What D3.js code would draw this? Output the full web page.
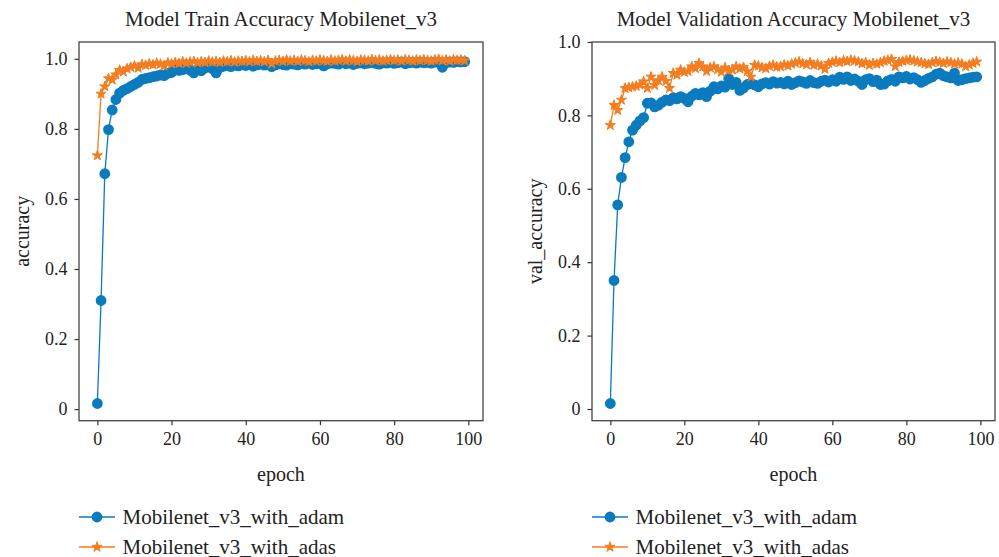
<!DOCTYPE html>
<html><head><meta charset="utf-8">
<script src="https://cdn.jsdelivr.net/npm/d3@7"></script>
<style>
body{margin:0;background:#fff}
text{font-family:"Liberation Serif","DejaVu Serif",serif;fill:#222}
</style>
</head><body>
<svg id="c" width="999" height="557"></svg>
<script>
// ---- data ----
const seriesNames = ["Mobilenet_v3_with_adam", "Mobilenet_v3_with_adas"];
const xTicks = [0, 20, 40, 60, 80, 100];
const yTicks = [0, 0.2, 0.4, 0.6, 0.8, 1.0];
const yTickLabels = ["0", "0.2", "0.4", "0.6", "0.8", "1.0"];

const trainAdam = [
0.016, 0.310, 0.672, 0.798, 0.854, 0.884, 0.902, 0.910, 0.915, 0.921,
0.927, 0.933, 0.941, 0.944, 0.946, 0.949, 0.951, 0.954, 0.952, 0.959,
0.961, 0.971, 0.967, 0.969, 0.972, 0.968, 0.960, 0.970, 0.966, 0.974,
0.977, 0.972, 0.960, 0.975, 0.979, 0.981, 0.978, 0.982, 0.980, 0.983,
0.981, 0.984, 0.979, 0.983, 0.985, 0.982, 0.984, 0.978, 0.983, 0.986,
0.984, 0.982, 0.986, 0.985, 0.983, 0.987, 0.985, 0.988, 0.984, 0.986,
0.987, 0.980, 0.986, 0.988, 0.987, 0.985, 0.989, 0.986, 0.988, 0.984,
0.987, 0.989, 0.986, 0.988, 0.990, 0.987, 0.985, 0.989, 0.988, 0.990,
0.987, 0.989, 0.991, 0.986, 0.989, 0.990, 0.988, 0.991, 0.989, 0.990,
0.988, 0.991, 0.990, 0.976, 0.989, 0.991, 0.990, 0.992, 0.991, 0.992];

const trainAdas = [
0.724, 0.900, 0.921, 0.944, 0.940, 0.955, 0.968, 0.963, 0.972, 0.976,
0.980, 0.974, 0.984, 0.982, 0.986, 0.983, 0.988, 0.985, 0.980, 0.989,
0.986, 0.990, 0.987, 0.992, 0.988, 0.991, 0.993, 0.989, 0.992, 0.990,
0.994, 0.991, 0.993, 0.990, 0.994, 0.992, 0.995, 0.991, 0.994, 0.993,
0.995, 0.992, 0.996, 0.993, 0.995, 0.992, 0.996, 0.986, 0.994, 0.996,
0.993, 0.997, 0.994, 0.996, 0.993, 0.997, 0.995, 0.992, 0.996, 0.994,
0.997, 0.995, 0.993, 0.997, 0.994, 0.996, 0.998, 0.994, 0.997, 0.995,
0.993, 0.997, 0.996, 0.994, 0.998, 0.995, 0.997, 0.994, 0.996, 0.998,
0.995, 0.997, 0.994, 0.998, 0.996, 0.994, 0.997, 0.995, 0.998, 0.996,
0.994, 0.997, 0.999, 0.995, 0.997, 0.994, 0.998, 0.996, 0.997, 0.995];

const valAdam = [
0.015, 0.350, 0.556, 0.631, 0.685, 0.728, 0.760, 0.773, 0.785, 0.794,
0.833, 0.834, 0.823, 0.828, 0.836, 0.842, 0.840, 0.848, 0.845, 0.851,
0.846, 0.837, 0.852, 0.860, 0.856, 0.862, 0.851, 0.866, 0.878, 0.872,
0.880, 0.877, 0.900, 0.884, 0.890, 0.868, 0.875, 0.884, 0.887, 0.883,
0.878, 0.886, 0.889, 0.885, 0.892, 0.888, 0.890, 0.886, 0.893, 0.884,
0.889, 0.894, 0.891, 0.887, 0.895, 0.889, 0.887, 0.893, 0.896, 0.891,
0.897, 0.893, 0.904, 0.898, 0.905, 0.895, 0.899, 0.893, 0.884, 0.897,
0.900, 0.892, 0.896, 0.884, 0.885, 0.894, 0.898, 0.893, 0.905, 0.902,
0.906, 0.899, 0.903, 0.897, 0.890, 0.895, 0.901, 0.905, 0.912, 0.915,
0.908, 0.905, 0.902, 0.915, 0.895, 0.897, 0.900, 0.902, 0.904, 0.905];

const valAdas = [
0.773, 0.828, 0.814, 0.842, 0.874, 0.876, 0.878, 0.880, 0.883, 0.892,
0.874, 0.905, 0.882, 0.895, 0.905, 0.893, 0.874, 0.915, 0.910, 0.924,
0.918, 0.920, 0.933, 0.928, 0.942, 0.933, 0.920, 0.930, 0.933, 0.925,
0.918, 0.930, 0.922, 0.924, 0.933, 0.927, 0.931, 0.920, 0.905, 0.937,
0.935, 0.930, 0.928, 0.934, 0.937, 0.932, 0.933, 0.938, 0.935, 0.940,
0.943, 0.946, 0.941, 0.938, 0.944, 0.937, 0.940, 0.935, 0.926, 0.942,
0.945, 0.948, 0.944, 0.949, 0.947, 0.951, 0.949, 0.946, 0.941, 0.944,
0.937, 0.942, 0.940, 0.944, 0.948, 0.950, 0.953, 0.933, 0.945, 0.948,
0.950, 0.951, 0.949, 0.946, 0.944, 0.941, 0.939, 0.944, 0.947, 0.945,
0.942, 0.946, 0.944, 0.940, 0.943, 0.940, 0.933, 0.938, 0.942, 0.946];

// ---- styles ----
const colors = ["#0a7bbf", "#f47d20"];
const symbolTypes = [d3.symbolCircle, d3.symbolStar];
const symbolSizes = [92, 32];

const panels = [
  {title: "Model Train Accuracy Mobilenet_v3", ylabel: "accuracy", series: [trainAdam, trainAdas], x0: 79, x1: 483},
  {title: "Model Validation Accuracy Mobilenet_v3", ylabel: "val_accuracy", series: [valAdam, valAdas], x0: 592, x1: 995}
];
const plotTop = 42, plotBottom = 420.7;

const svg = d3.select("#c");

panels.forEach(p => {
  const n = p.series[0].length;
  const x = d3.scaleLinear().domain([-(n - 1) * 0.05, (n - 1) * 1.05]).range([p.x0, p.x1]);
  const all = p.series.flat();
  const mn = d3.min(all), mx = d3.max(all), r = mx - mn;
  const y = d3.scaleLinear().domain([mn - 0.05 * r, mx + 0.05 * r]).range([plotBottom, plotTop]);
  const g = svg.append("g");

  // axes
  const xa = g.append("g").attr("transform", `translate(0,${plotBottom})`)
    .call(d3.axisBottom(x).tickValues(xTicks).tickSize(4.5).tickPadding(7).tickFormat(d3.format("d")));
  const ya = g.append("g").attr("transform", `translate(${p.x0},0)`)
    .call(d3.axisLeft(y).tickValues(yTicks).tickSize(4.5).tickPadding(7).tickFormat((d, i) => yTickLabels[i]));
  [xa, ya].forEach(a => {
    a.select(".domain").remove();
    a.selectAll(".tick line").attr("stroke", "#333").attr("stroke-width", 1.2);
    a.selectAll(".tick text").attr("font-size", 18).attr("fill", "#222");
  });

  // series
  p.series.forEach((s, k) => {
    const line = d3.line().x((d, i) => x(i)).y(d => y(d));
    g.append("path").datum(s).attr("d", line).attr("fill", "none")
      .attr("stroke", colors[k]).attr("stroke-width", 1.3);
    const sym = d3.symbol().type(symbolTypes[k]).size(symbolSizes[k]);
    g.append("g").selectAll("path").data(s).join("path")
      .attr("transform", (d, i) => `translate(${x(i)},${y(d)})`)
      .attr("d", sym).attr("fill", colors[k]).attr("stroke", colors[k]).attr("stroke-width", k === 1 ? 1 : 0);
  });

  // frame
  g.append("rect").attr("x", p.x0).attr("y", plotTop).attr("width", p.x1 - p.x0).attr("height", plotBottom - plotTop)
    .attr("fill", "none").attr("stroke", "#444").attr("stroke-width", 1.3);

  // titles & labels
  const cx = (p.x0 + p.x1) / 2;
  g.append("text").attr("x", cx).attr("y", 26).attr("text-anchor", "middle").attr("font-size", 21).text(p.title);
  g.append("text").attr("x", cx).attr("y", 481).attr("text-anchor", "middle").attr("font-size", 20).text("epoch");
  g.append("text").attr("transform", `translate(${p.x0 - 50},${(plotTop + plotBottom) / 2}) rotate(-90)`)
    .attr("text-anchor", "middle").attr("font-size", 20).text(p.ylabel);

  // legend
  seriesNames.forEach((name, k) => {
    const ly = 517 + k * 30;
    const lg = g.append("g");
    lg.append("line").attr("x1", p.x0).attr("x2", p.x0 + 36).attr("y1", ly).attr("y2", ly)
      .attr("stroke", colors[k]).attr("stroke-width", 1.3);
    lg.append("path").attr("transform", `translate(${p.x0 + 18},${ly})`)
      .attr("d", d3.symbol().type(symbolTypes[k]).size(symbolSizes[k])())
      .attr("fill", colors[k]).attr("stroke", colors[k]).attr("stroke-width", k === 1 ? 1 : 0);
    lg.append("text").attr("x", p.x0 + 43.5).attr("y", ly + 6.5).attr("font-size", 21).text(name);
  });
});
</script>
</body></html>
